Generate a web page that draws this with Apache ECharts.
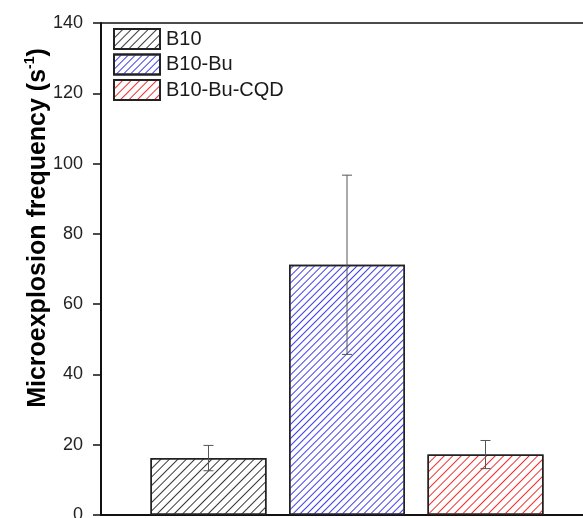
<!DOCTYPE html>
<html><head><meta charset="utf-8">
<script src="https://cdn.jsdelivr.net/npm/echarts@6/dist/echarts.min.js"></script>
<style>html,body{margin:0;padding:0;background:#fff}#c{width:583px;height:518px}</style>
</head><body><div id="c"></div>
<script>
var categories = ['B10', 'B10-Bu', 'B10-Bu-CQD'];
var values = [16.2, 71.2, 17.2];
var errors = [3.6, 25.5, 4.0];
var hatchColors = ['#3a3a3a', '#4040e6', '#f03030'];
var yTicks = [0, 20, 40, 60, 80, 100, 120, 140];

var FONT = '"Liberation Sans", Arial, sans-serif';
var chart = echarts.init(document.getElementById('c'), null, {renderer: 'canvas'});

var series = categories.map(function (name, i) {
  return {
    name: name,
    type: 'bar',
    barWidth: 116,
    barGap: '-100%',
    data: [[i + 1, values[i]]],
    itemStyle: {
      color: '#ffffff',
      borderColor: '#222222',
      borderWidth: 1.5,
      decal: {
        symbol: 'rect',
        symbolSize: 1,
        color: hatchColors[i],
        backgroundColor: null,
        dashArrayX: [1, 0],
        dashArrayY: i === 1 ? [0.9, 3.8] : [0.9, 4.2],
        rotation: -Math.PI / 4
      }
    },
    emphasis: {disabled: true},
    z: 2
  };
});

series.push({
  type: 'custom',
  name: 'err',
  z: 5,
  data: values.map(function (v, i) { return [i + 1, v - errors[i], v + errors[i]]; }),
  renderItem: function (params, api) {
    var x = api.value(0);
    var lo = api.coord([x, api.value(1)]);
    var hi = api.coord([x, api.value(2)]);
    var hw = 5;
    var st = {stroke: '#555555', lineWidth: 1};
    return {
      type: 'group',
      children: [
        {type: 'line', shape: {x1: lo[0], y1: lo[1], x2: hi[0], y2: hi[1]}, style: st},
        {type: 'line', shape: {x1: lo[0] - hw, y1: lo[1], x2: lo[0] + hw, y2: lo[1]}, style: st},
        {type: 'line', shape: {x1: hi[0] - hw, y1: hi[1], x2: hi[0] + hw, y2: hi[1]}, style: st}
      ]
    };
  }
});

chart.setOption({
  animation: false,
  aria: {enabled: true, decal: {show: true}},
  grid: {left: 101, top: 23, bottom: 3, right: -10, outerBoundsMode: 'none', containLabel: false,
         show: true, borderColor: '#111', borderWidth: 1.5, backgroundColor: 'transparent'},
  legend: {
    data: categories,
    orient: 'vertical',
    left: 113,
    top: 28,
    padding: 0,
    itemWidth: 46,
    itemHeight: 20,
    itemGap: 3.5,
    icon: 'rect',
    textStyle: {fontFamily: FONT, fontSize: 20, lineHeight: 20, color: '#1a1a1a', padding: [0, 0, 0, 1]}
  },
  xAxis: {
    type: 'value',
    min: 0.224,
    max: 3.776,
    axisLine: {show: true, onZero: false, lineStyle: {color: '#111', width: 2}},
    axisTick: {show: false},
    axisLabel: {show: false},
    splitLine: {show: false}
  },
  yAxis: {
    type: 'value',
    min: 0,
    max: 140,
    interval: 20,
    axisLine: {show: true, lineStyle: {color: '#111', width: 2}},
    axisTick: {show: true, length: 8, lineStyle: {color: '#111', width: 1.5}},
    axisLabel: {
      margin: 18,
      fontFamily: FONT,
      fontSize: 18,
      color: '#222',
      formatter: function (v) { return yTicks.indexOf(v) >= 0 ? String(v) : ''; }
    },
    splitLine: {show: false}
  },
  graphic: [{
    type: 'text',
    x: 38,
    y: 228,
    rotation: Math.PI / 2,
    style: {
      text: '{b|Microexplosion frequency (s}{sup|-1}{b|)}',
      align: 'center',
      verticalAlign: 'middle',
      rich: {
        b: {fontFamily: FONT, fontSize: 25, fontWeight: 'bold', fill: '#000', lineHeight: 30},
        sup: {fontFamily: FONT, fontSize: 14, fontWeight: 'bold', fill: '#000', verticalAlign: 'top', lineHeight: 30}
      }
    }
  }],
  series: series
});
</script>
</body></html>
